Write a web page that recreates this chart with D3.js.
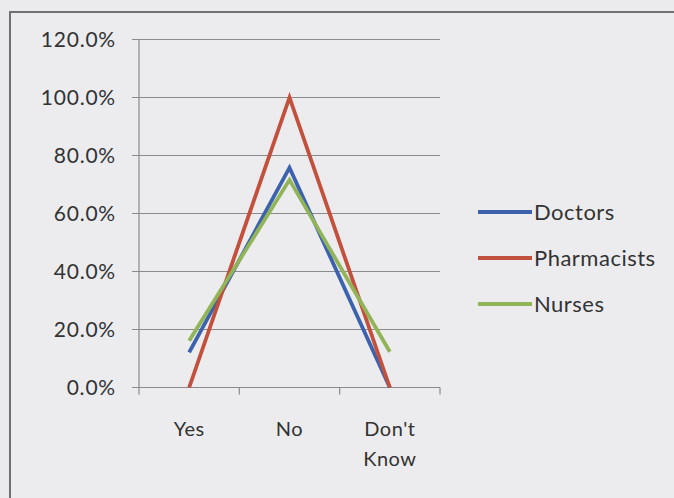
<!DOCTYPE html>
<html><head><meta charset="utf-8">
<script src="https://cdn.jsdelivr.net/npm/d3@7"></script>
<style>
html,body{margin:0;padding:0;background:#ebebed;}
svg{display:block;font-family:Lato,"Open Sans",sans-serif;}
</style></head>
<body>
<svg id="c" width="674" height="498"></svg>
<script>
const categories = ["Yes", "No", "Don't Know"];
const seriesNames = ["Doctors", "Pharmacists", "Nurses"];
const doctors = [0.121, 0.758, 0.0];
const pharmacists = [0.0, 1.0, 0.0];
const nurses = [0.161, 0.716, 0.123];
const yTicks = [0, 0.2, 0.4, 0.6, 0.8, 1.0, 1.2];
const colors = ["#3d62ad", "#c3503d", "#92b458"];

(function () {
const series = [doctors, pharmacists, nurses];
const svg = d3.select("#c");

// outer chart border
svg.append("rect").attr("x", 10).attr("y", 12).attr("width", 700).attr("height", 520)
  .attr("fill", "#ececee").attr("stroke", "#707070").attr("stroke-width", 2);

const pLeft = 139, pRight = 440, pTop = 39.5, pBottom = 387.5;
const x = d3.scaleBand().domain(categories).range([pLeft, pRight]);
const y = d3.scaleLinear().domain([0, 1.2]).range([pBottom, pTop]);

// gridlines
svg.append("g").selectAll("line").data(yTicks).join("line")
  .attr("x1", pLeft - 7).attr("x2", pRight)
  .attr("y1", d => y(d)).attr("y2", d => y(d))
  .attr("stroke", "#8a8a8a").attr("stroke-width", 1.2);

// y axis line
svg.append("line").attr("x1", pLeft).attr("x2", pLeft).attr("y1", pTop).attr("y2", pBottom)
  .attr("stroke", "#8a8a8a").attr("stroke-width", 1.2);

// y labels
svg.append("g").selectAll("text").data(yTicks).join("text")
  .attr("x", 116).attr("y", d => y(d)).attr("dy", "0.36em")
  .attr("text-anchor", "end").attr("font-size", 21).attr("letter-spacing", 0.8).attr("fill", "#333")
  .text(d => d3.format(".1%")(d));

// x axis ticks at band edges
const edges = categories.map(c => x(c)).concat([pRight]);
svg.append("g").selectAll("line").data(edges).join("line")
  .attr("x1", d => d).attr("x2", d => d).attr("y1", pBottom).attr("y2", pBottom + 7)
  .attr("stroke", "#8a8a8a").attr("stroke-width", 1.2);

// x labels
const xl = svg.append("g").selectAll("text").data(categories).join("text")
  .attr("x", d => x(d) + x.bandwidth() / 2).attr("y", 436)
  .attr("text-anchor", "middle").attr("font-size", 20).attr("letter-spacing", 0.5).attr("fill", "#333");
xl.each(function(d) {
  const words = d === "Don't Know" ? ["Don't", "Know"] : [d];
  const t = d3.select(this);
  words.forEach((w, i) => t.append("tspan").attr("x", x(d) + x.bandwidth() / 2).attr("dy", i ? 30 : 0).text(w));
});

// lines
const line = d3.line().x((d, i) => x(categories[i]) + x.bandwidth() / 2).y(d => y(d));
svg.append("g").selectAll("path").data(series).join("path")
  .attr("d", d => line(d)).attr("fill", "none")
  .attr("stroke", (d, i) => colors[i]).attr("stroke-width", 3.8)
  .attr("stroke-linejoin", "miter");

// legend
const lg = svg.append("g").selectAll("g").data(seriesNames).join("g")
  .attr("transform", (d, i) => `translate(478,${212 + i * 46})`);
lg.append("line").attr("x1", 0).attr("x2", 54).attr("y1", 0).attr("y2", 0)
  .attr("stroke", (d, i) => colors[i]).attr("stroke-width", 3.8);
lg.append("text").attr("x", 56).attr("dy", "0.36em").attr("font-size", 22).attr("letter-spacing", 0.5).attr("fill", "#333")
  .text(d => d);
})();
</script>
</body></html>
